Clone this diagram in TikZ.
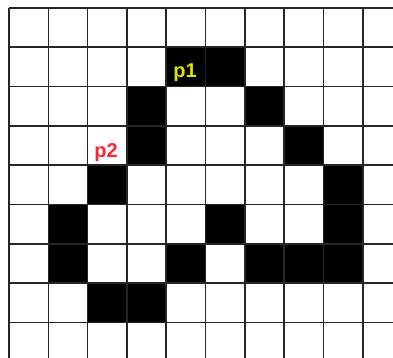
\documentclass[tikz,border=0pt]{standalone}
\usepackage{fontspec}
\setmainfont{Liberation Sans}
\definecolor{pone}{RGB}{225,225,0}
\definecolor{ptwo}{RGB}{250,40,50}
\begin{document}
\begin{tikzpicture}[x=1pt,y=-1pt,
  cell/.style={fill=black},
  gridline/.style={line width=1.6pt,draw=black!85},
  lbl/.style={font=\bfseries\fontsize{20}{20}\selectfont,inner sep=0pt,anchor=base}]
\useasboundingbox (0,0) rectangle (393,358);
\fill[white] (0,0) rectangle (393,358);
\def\s{39.3}
\def\xo{9}
\def\yo{8}
% black cells: (col,row)
\foreach \c/\r in {4/1,5/1,3/2,6/2,3/3,7/3,2/4,8/4,1/5,5/5,8/5,1/6,4/6,6/6,7/6,8/6,2/7,3/7}{
  \fill[cell] ({\xo+\c*\s},{\yo+\r*\s}) rectangle ({\xo+(\c+1)*\s},{\yo+(\r+1)*\s});
}
% grid
\foreach \k in {0,...,9}{
  \draw[gridline] ({\xo+\k*\s},\yo) -- ({\xo+\k*\s},358);
}
\foreach \k in {0,...,8}{
  \draw[gridline] (\xo,{\yo+\k*\s}) -- (393,{\yo+\k*\s});
}
\node[lbl,text=pone] (p1) at (185,77.5) {p1};
\node[lbl,text=ptwo] (p2) at (106,157.5) {p2};
\end{tikzpicture}
\end{document}
